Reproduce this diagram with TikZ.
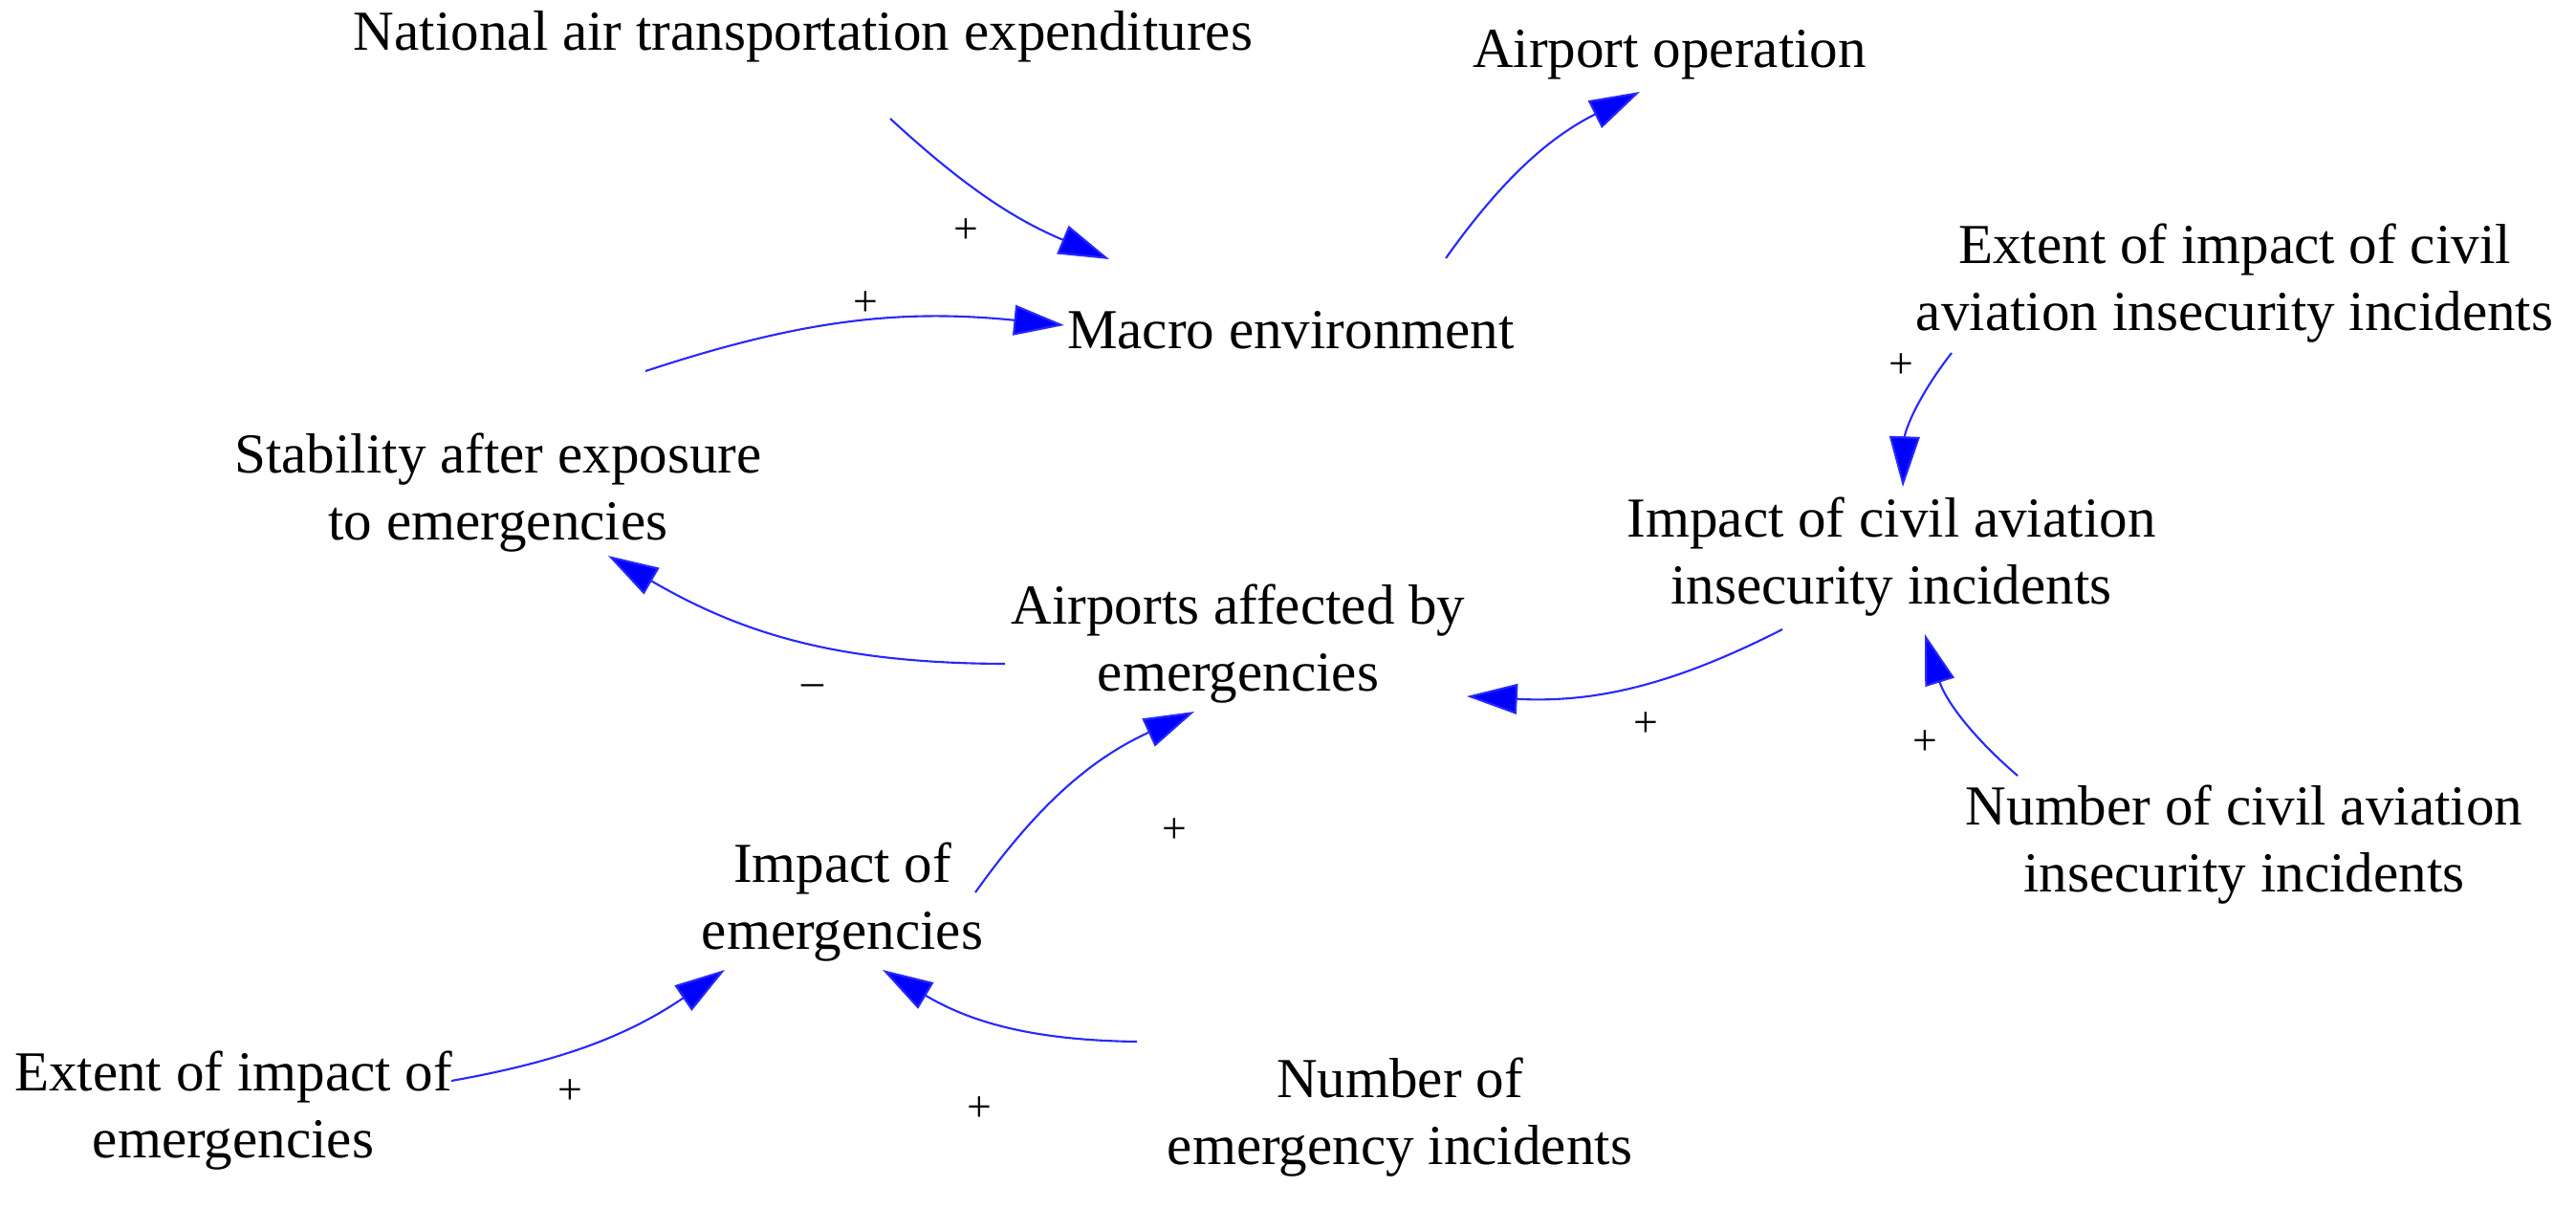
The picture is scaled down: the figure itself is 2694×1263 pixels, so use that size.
\documentclass[tikz,border=0pt]{standalone}
\usepackage{fontspec}
\setmainfont{Liberation Serif}
\usetikzlibrary{arrows.meta,calc}
\tikzset{
  var/.style={align=center, inner sep=0pt, font=\fontsize{16.8}{19.8}\selectfont},
  sgn/.style={inner sep=0pt, font=\fontsize{13}{15}\selectfont},
  link/.style={draw={rgb,255:red,40;green,40;blue,255}, line width=0.6pt,
    -{Triangle[length=15pt,width=9pt,fill=blue]}},
}
\begin{document}
\begin{tikzpicture}[x=0.01cm,y=-0.01cm]
\useasboundingbox (0,0) rectangle (2694,1263);
\node[var] (nat) at (840,38) {National air transportation expenditures};
\node[var] (apo) at (1746,57) {Airport operation};
\node[var] (mac) at (1350,345) {Macro environment};
\node[var] (ecv) at (2337,296) {Extent of impact of civil\\aviation insecurity incidents};
\node[var] (sta) at (521,515) {Stability after exposure\\to emergencies};
\node[var] (icv) at (1978,582) {Impact of civil aviation\\insecurity incidents};
\node[var] (aff) at (1295,673) {Airports affected by\\emergencies};
\node[var] (iem) at (881,943) {Impact of\\emergencies};
\node[var] (ncv) at (2347,883) {Number of civil aviation\\insecurity incidents};
\node[var] (eem) at (244,1161) {Extent of impact of\\emergencies};
\node[var] (nem) at (1464,1168) {Number of\\emergency incidents};

\draw[link] ($(nat)+(91,86)$) to[bend right=10] ($(mac)+(-190,-74)$);
\draw[link] ($(mac)+(162,-75)$) to[bend left=14] ($(apo)+(-31,39)$);
\draw[link] ($(sta)+(154,-127)$) to[bend left=12] ($(mac)+(-237,-5)$);
\draw[link] ($(ecv)+(-296,73)$) to[bend right=18] ($(icv)+(12,-73)$);
\draw[link] ($(aff)+(-244,21)$) to[bend left=15] ($(sta)+(115,66)$);
\draw[link] ($(icv)+(-114,76)$) to[bend left=15] ($(aff)+(239,55)$);
\draw[link] ($(ncv)+(-237,-72)$) to[bend left=16] ($(icv)+(35,81)$);
\draw[link] ($(iem)+(139,-10)$) to[bend left=15] ($(aff)+(-46,71)$);
\draw[link] ($(eem)+(228,-31)$) to[bend right=12] ($(iem)+(-123,71)$);
\draw[link] ($(nem)+(-275,-79)$) to[bend left=15] ($(iem)+(42,71)$);

\node[sgn] (s1) at (1010,242) {+};
\node[sgn] (s2) at (905,318) {+};
\node[sgn] (s3) at (1988,383) {+};
\node[sgn] (s4) at (850,722) {–};
\node[sgn] (s5) at (1721,758) {+};
\node[sgn] (s6) at (2013,777) {+};
\node[sgn] (s7) at (1228,869) {+};
\node[sgn] (s8) at (596,1142) {+};
\node[sgn] (s9) at (1024,1160) {+};
\end{tikzpicture}
\end{document}
